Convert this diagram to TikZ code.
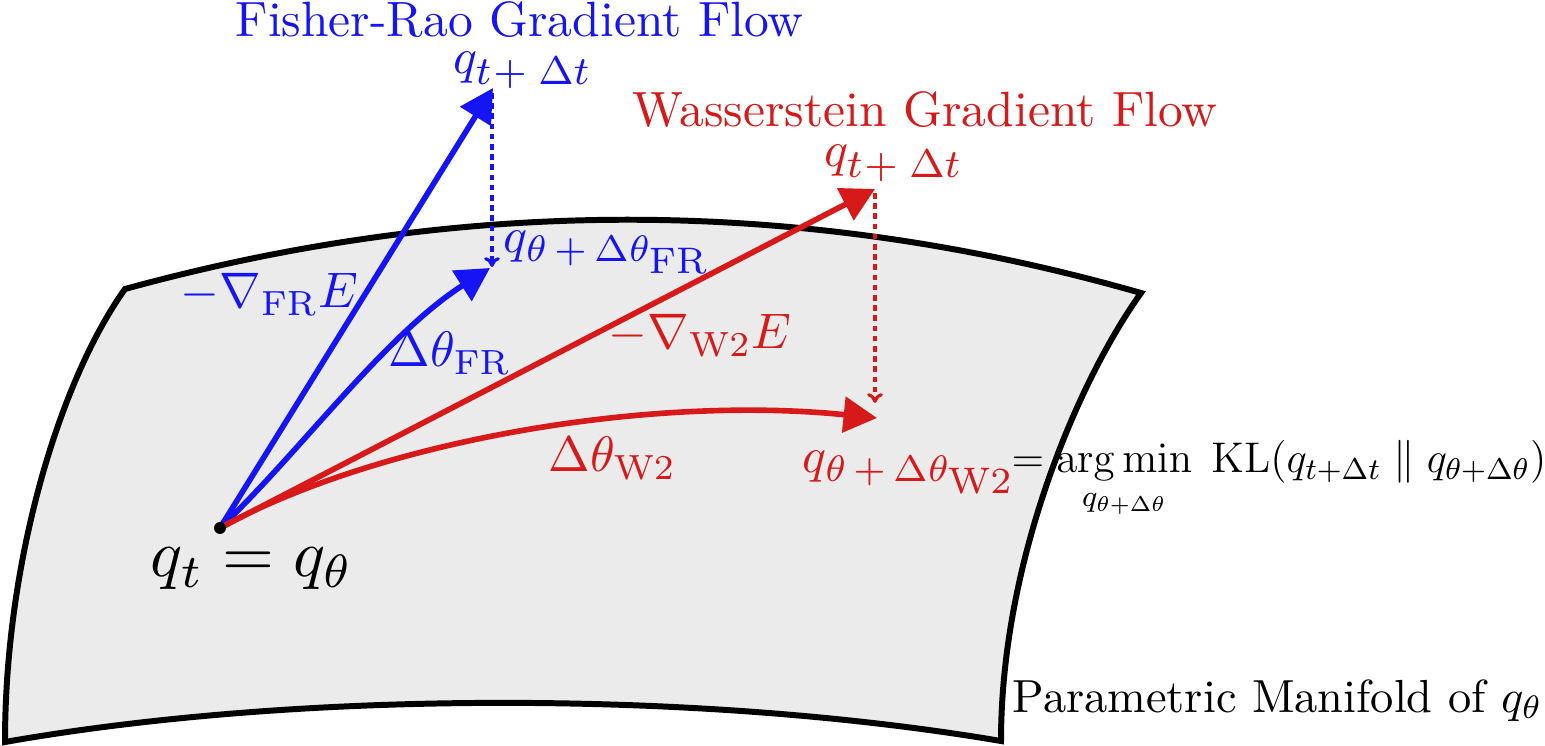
\RequirePackage{fix-cm}
\documentclass[tikz,border=0pt]{standalone}
\usepackage{amsmath}
\usepackage{graphicx}
\usetikzlibrary{arrows.meta}
\definecolor{fblue}{RGB}{20,20,245}
\definecolor{wred}{RGB}{215,25,25}
\definecolor{mfill}{RGB}{235,235,235}
\newcommand{\Lb}[1]{\scalebox{1.42}{#1}}
\newcommand{\Tt}[1]{\scalebox{1.41}{#1}}
\newcommand{\subbig}[1]{\mbox{\fontsize{7.4}{9}\selectfont$\theta\mkern3mu{+}\mkern3mu\Delta\theta_{\textstyle\mathrm{#1}}$}}
\newcommand{\tsub}{\mbox{\fontsize{8}{9}\selectfont$t\mkern1mu{+}\mkern5mu\Delta t$}}
\begin{document}
\begin{tikzpicture}[x=0.01cm,y=-0.01cm,
  lbl/.style={inner sep=0pt, font=\fontsize{10}{12}\selectfont, anchor=base west},
  bigarrow/.style={line width=1.6pt, -{Triangle[length=9.5pt,width=10pt]}},
  proj/.style={line width=0.9pt, dash pattern=on 1.6pt off 1.3pt, -{To[length=2.8pt,width=4.5pt]}}
]
\useasboundingbox (0,0) rectangle (1545,746);
% manifold
\path[fill=mfill, draw=black, line width=1.7pt]
 (125,289) .. controls (464,196) and (802,196) .. (1141,293)
 .. controls (1076,384) and (1001,564) .. (1001,741)
 .. controls (700,690) and (300,690) .. (5,742)
 .. controls (5,560) and (60,380) .. cycle;
% points
\coordinate (qtc) at (220,528);
\coordinate (fr) at (493,88);
\coordinate (frp) at (490,268);
\coordinate (w) at (875,189);
\coordinate (wp) at (877,418);
\coordinate (frtop) at (492,93);
\coordinate (frbot) at (492,267);
\coordinate (wtop) at (875,193);
\coordinate (wbot) at (875,403);
% arrows
\draw[bigarrow, fblue] (qtc) -- (fr);
\draw[bigarrow, fblue] (qtc) .. controls (300,452) and (385,335) .. (frp);
\draw[bigarrow, wred] (qtc) -- (w);
\draw[bigarrow, wred] (qtc) .. controls (380,440) and (650,395) .. (wp);
\draw[proj, fblue] (frtop) -- (frbot);
\draw[proj, wred] (wtop) -- (wbot);
\node[circle, fill=black, inner sep=0pt, minimum size=3.4pt] (qt) at (qtc) {};
% labels
\node[lbl, text=fblue] (frtitle) at (235,37) {\Tt{Fisher-Rao Gradient Flow}};
\node[lbl, text=fblue] (frq) at (453,74) {\Lb{$q_{\tsub}$}};
\node[lbl, text=wred] (wtitle) at (632,127) {\Tt{Wasserstein Gradient Flow}};
\node[lbl, text=wred] (wq) at (824,167) {\Lb{$q_{\tsub}$}};
\node[lbl, text=fblue] (frpq) at (503,253) {\Lb{$q_{\subbig{FR}}$}};
\node[lbl, text=fblue] (frgrad) at (180,308) {\Lb{$-\nabla_{\mathrm{FR}}E$}};
\node[lbl, text=fblue] (frdelta) at (388,367) {\Lb{$\Delta\theta_{\mathrm{FR}}$}};
\node[lbl, text=wred] (wgrad) at (608,349) {\Lb{$-\nabla_{\mathrm{W2}}E$}};
\node[lbl, text=wred] (wdelta) at (548,472) {\Lb{$\Delta\theta_{\mathrm{W2}}$}};
\node[lbl, text=wred] (wpq) at (802,473) {\Lb{$q_{\subbig{W2}}$}};
\node[inner sep=0pt, font=\fontsize{12.2}{14}\selectfont, anchor=base west] (kl) at (1011,473)
  {$=\mathop{\arg\min}\limits_{q_{\theta+\Delta\theta}}\;\mathrm{KL}(q_{t+\Delta t}\parallel q_{\theta+\Delta\theta})$};
\node[lbl] (pm) at (1012,712) {\scalebox{1.32}{Parametric Manifold of $q_\theta$}};
\node[lbl] (eq) at (150,577) {\scalebox{1.9}{$q_t = q_\theta$}};
\end{tikzpicture}
\end{document}
